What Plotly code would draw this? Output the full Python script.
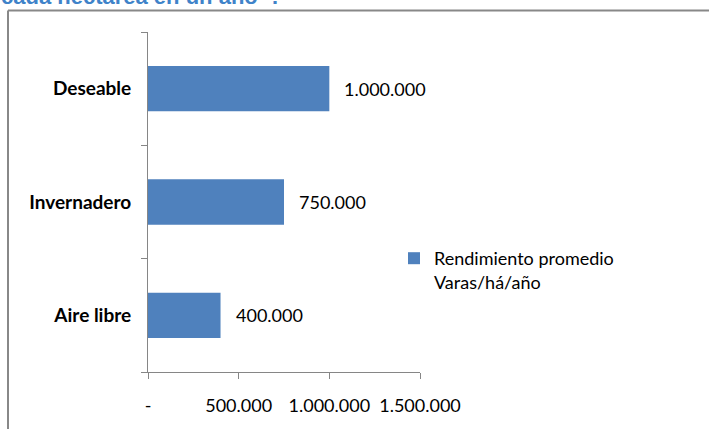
import plotly.graph_objects as go

# Rendimiento promedio por sistema de cultivo (varas por hectárea por año)
categorias = ["Aire libre", "Invernadero", "Deseable"]
rendimiento = [400000, 750000, 1000000]
serie = "Rendimiento promedio<br>Varas/há/año"

ticks_x = [0, 500000, 1000000, 1500000]
ticks_x_texto = ["-", "500.000", "1.000.000", "1.500.000"]

titulo = "cada hectárea en un año”?"

W, H = 709, 429
L, R, T, B = 148, 289, 32, 57
pw, ph = W - L - R, H - T - B


def px_x(p):
    return (p - L) / pw


def px_y(p):
    return (H - B - p) / ph


def miles(v):
    return f"{v:,}".replace(",", ".")


fig = go.Figure()
fig.add_trace(go.Bar(
    x=rendimiento,
    y=categorias,
    orientation="h",
    name=serie,
    marker=dict(color="#4f81bd", line=dict(width=0)),
    showlegend=True,
))

# etiquetas de valor a la derecha de cada barra
for c, v in zip(categorias, rendimiento):
    fig.add_annotation(
        x=v, y=c, xref="x", yref="y",
        text=miles(v), showarrow=False,
        xanchor="left", yanchor="middle", xshift=13,
        font=dict(family="Lato", size=18, color="#000000"),
    )

# título (parcialmente fuera del área visible)
fig.add_annotation(
    x=px_x(-1), y=px_y(-3), xref="paper", yref="paper",
    text=f"<b>{titulo}</b>", showarrow=False,
    xanchor="left", yanchor="middle",
    font=dict(family="Liberation Sans", size=22, color="#3f83c9"),
)

# marco del gráfico
marco = dict(color="#888888", width=2)
fig.add_shape(type="line", xref="paper", yref="paper",
              x0=px_x(8), x1=px_x(730), y0=px_y(10.5), y1=px_y(10.5), line=marco)
fig.add_shape(type="line", xref="paper", yref="paper",
              x0=px_x(8), x1=px_x(8), y0=px_y(10.5), y1=px_y(450), line=marco)

fig.update_layout(
    width=W, height=H,
    margin=dict(l=L, r=R, t=T, b=B, pad=0),
    paper_bgcolor="white", plot_bgcolor="white",
    bargap=0.6,
    separators=",.",
    font=dict(family="Lato", size=18, color="#000000"),
    showlegend=True,
    legend=dict(
        x=px_x(394), y=px_y(240), xanchor="left", yanchor="top",
        bgcolor="rgba(0,0,0,0)", font=dict(family="Lato", size=18),
        itemwidth=30, valign="top",
    ),
    xaxis=dict(
        range=[0, 1500000], tickvals=ticks_x, ticktext=ticks_x_texto,
        showgrid=False, zeroline=False, showline=True,
        linecolor="#868686", linewidth=1,
        ticks="outside", ticklen=6, tickcolor="#868686",
        ticklabelstandoff=11,
        tickfont=dict(family="Lato", size=18),
        fixedrange=True,
    ),
    yaxis=dict(
        categoryorder="array", categoryarray=categorias,
        showgrid=False, zeroline=False, showline=True,
        linecolor="#868686", linewidth=1,
        ticks="outside", ticklen=6, tickcolor="#868686",
        tickson="boundaries",
        ticklabelstandoff=12,
        tickfont=dict(family="Lato", size=19, weight="bold"),
        fixedrange=True,
    ),
)

fig.write_html("out.html", config={"displayModeBar": False})
